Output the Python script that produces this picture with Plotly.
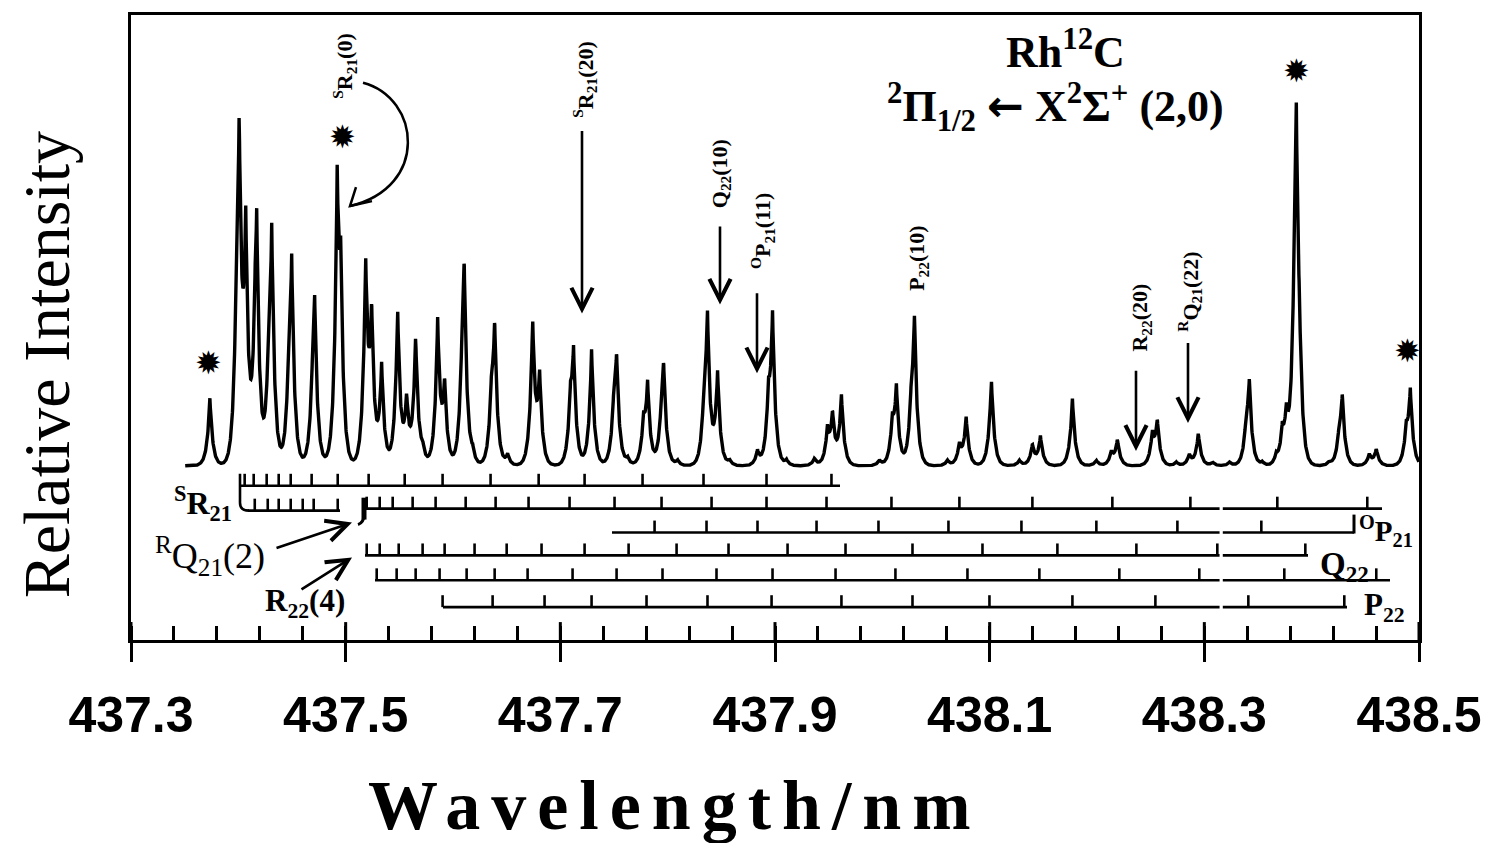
import numpy as np
import plotly.graph_objects as go

# ---------------------------------------------------------------------------
# Rh12C  [2]Pi(1/2) <- X [2]Sigma+ (2,0) band : resolved line list
# centre wavelength (nm) and peak intensity (relative units, baseline = 0)
# ---------------------------------------------------------------------------
line_nm = [
    437.3735, 437.3985, 437.4008, 437.4069, 437.4157, 437.4171, 437.4283, 437.4311,
    437.4469, 437.4497, 437.4692, 437.4711, 437.4921, 437.4953, 437.5186, 437.5242,
    437.5335, 437.5484, 437.5568, 437.5652, 437.5717, 437.5857, 437.5922, 437.6081,
    437.6104, 437.6183, 437.6360, 437.6388, 437.6509, 437.6742, 437.6807, 437.7096,
    437.7123, 437.7291, 437.7496, 437.7524, 437.7626, 437.7776, 437.7813, 437.7943,
    437.7962, 437.8092, 437.8343, 437.8371, 437.8465, 437.8576, 437.8837, 437.8940,
    437.8977, 437.9107, 437.9368, 437.9489, 437.9536, 437.9619, 437.9973, 438.0094,
    438.0131, 438.0271, 438.0299, 438.0607, 438.0718, 438.0781, 438.1016, 438.1277,
    438.1398, 438.1473, 438.1771, 438.1994, 438.2134, 438.2190, 438.2516, 438.2562,
    438.2739, 438.2860, 438.2944, 438.3077, 438.3235, 438.3391, 438.3419, 438.3540,
    438.3671, 438.3727, 438.3764, 438.3838, 438.3857, 438.3885, 438.4164, 438.4257,
    438.4285, 438.4537, 438.4602, 438.4882, 438.4919,
]
line_int = [
    18.6, 28.0, 80.0, 60.0, 18.0, 58.0, 18.0, 60.0,
    15.0, 53.0, 12.0, 41.0, 70.0, 42.0, 54.0, 38.0,
    27.0, 43.0, 17.0, 35.0, 4.0, 39.0, 21.0, 12.0,
    52.0, 3.0, 15.0, 35.0, 3.0, 39.0, 23.0, 14.0,
    28.0, 32.0, 10.0, 28.0, 2.0, 10.0, 21.0, 8.0,
    25.0, 1.5, 14.0, 37.0, 25.0, 1.5, 4.0, 15.0,
    39.0, 1.5, 2.0, 9.0, 13.0, 19.0, 1.5, 10.0,
    20.0, 12.0, 37.0, 1.5, 5.5, 13.0, 24.0, 1.5,
    5.5, 8.0, 18.5, 1.5, 3.5, 7.0, 8.0, 11.5,
    1.0, 3.0, 9.0, 1.0, 1.0, 8.0, 21.0, 1.0,
    2.5, 8.0, 11.5, 20.0, 84.0, 16.0, 1.0, 6.0,
    17.5, 3.0, 4.5, 8.0, 19.5,
]
line_halfwidth_nm = 0.0027

# ---------------------------------------------------------------------------
# Assigned rotational lines of each branch (nm)
# ---------------------------------------------------------------------------
sr21_nm = [437.4059, 437.4143, 437.4264, 437.4376, 437.4488, 437.4683, 437.4926,
           437.5214, 437.5550, 437.5903, 437.6350, 437.6798, 437.7226, 437.7766,
           437.8334, 437.8921, 437.9526]
sr21_head_nm = [437.4153, 437.4274, 437.4376, 437.4488, 437.4600, 437.4702, 437.4926]
rq21_nm = [437.5196, 437.5317, 437.5438, 437.5624, 437.5838, 437.6118, 437.6397,
           437.6704, 437.7086, 437.7505, 437.7943, 437.8409, 437.8921, 437.9480,
           438.0085, 438.0718, 438.1398, 438.2143, 438.2870, 438.3680, 438.4518]
op21_nm = [437.7878, 437.8362, 437.8837, 437.9387, 437.9964, 438.0616, 438.1296,
           438.1994, 438.2749, 438.3531]
r22_nm = [437.5196, 437.5317, 437.5494, 437.5717, 437.5922, 437.6201, 437.6500,
          437.6825, 437.7226, 437.7636, 437.8083, 437.8567, 437.9117, 437.9657,
          438.0281, 438.0933, 438.1631, 438.2367, 438.3121, 438.3941]
q22_nm = [437.5289, 437.5475, 437.5652, 437.5875, 437.6127, 437.6388, 437.6695,
          437.7114, 437.7524, 437.7952, 437.8455, 437.8977, 437.9564, 438.0122,
          438.0793, 438.1463, 438.2208, 438.2953, 438.3745, 438.4602]
p22_nm = [437.5903, 437.6369, 437.6853, 437.7291, 437.7803, 437.8371, 437.8968,
          437.9619, 438.0281, 438.0998, 438.1771, 438.2544, 438.3410, 438.4304]

x_tick_vals = [437.3, 437.5, 437.7, 437.9, 438.1, 438.3, 438.5]
x_tick_text = ["437.3", "437.5", "437.7", "437.9", "438.1", "438.3", "438.5"]

# ---------------------------------------------------------------------------
# Page geometry and helpers that place decorations in pixel terms
# ---------------------------------------------------------------------------
W, H = 1497, 843
ML, MR, MT, MB = 131, 78, 12, 203
X0, X1 = 437.3, 438.5
Y0, Y1 = -47.95, 124.1
PW, PH = W - ML - MR, H - MT - MB
SERIF = "Liberation Serif"
SANS = "Liberation Sans"


def px_x(px):
    return X0 + (px - ML) * (X1 - X0) / PW


def px_y(py):
    return Y1 - (py - MT) * (Y1 - Y0) / PH


def dy(pix):
    return pix * (Y1 - Y0) / PH


fig = go.Figure()

# spectrum trace: every line broadened by the instrument profile
wl = np.arange(437.3505, 438.5001, 0.0002)
spec = np.zeros_like(wl)
for c, h in zip(line_nm, line_int):
    spec += h * np.exp(-np.abs(wl - c) / line_halfwidth_nm)
fig.add_trace(go.Scatter(x=wl, y=spec, mode="lines",
                         line=dict(color="black", width=3.4),
                         hoverinfo="skip", showlegend=False))

# ---------------------------------------------------------------------------
# Assignment ladders below the spectrum
# ---------------------------------------------------------------------------
GAP = (438.3142, 438.3172)
TICK = 12
ladders = [
    # ticks, baseline row (px), line start (px), line end (px)
    (sr21_nm, 485, 240, 840),
    (sr21_head_nm, 510, 248, 340),
    (rq21_nm, 508, 364, 1382),
    (op21_nm, 532, 612, 1354),
    (r22_nm, 555, 365, 1308),
    (q22_nm, 580, 375, 1390),
    (p22_nm, 607, 443, 1347),
]
for ticks, row, s_px, e_px in ladders:
    yb, yt = px_y(row), px_y(row) + dy(TICK)
    xs0, xs1 = px_x(s_px), px_x(e_px)
    xs, ys = [], []
    if xs0 < GAP[0] < xs1:
        xs += [xs0, GAP[0], None, GAP[1], xs1, None]
        ys += [yb, yb, None, yb, yb, None]
    else:
        xs += [xs0, xs1, None]
        ys += [yb, yb, None]
    for t in ticks:
        xs += [t, t, None]
        ys += [yb, yt, None]
    fig.add_trace(go.Scatter(x=xs, y=ys, mode="lines",
                             line=dict(color="black", width=2.6),
                             hoverinfo="skip", showlegend=False))

shapes = []


def seg_path(points, width=2.5):
    d = "M " + " L ".join(f"{px_x(a)},{px_y(b)}" for a, b in points)
    shapes.append(dict(type="path", path=d, xref="x", yref="y",
                       line=dict(color="black", width=width)))


# bracket joining the two rows of the S-R21 branch
shapes.append(dict(type="path", xref="x", yref="y",
                   path=(f"M {px_x(240)},{px_y(473)} L {px_x(240)},{px_y(502)} "
                         f"Q {px_x(240)},{px_y(510)} {px_x(249)},{px_y(510)}"),
                   line=dict(color="black", width=2.6)))
# start marker of the R-Q21 branch
seg_path([(364, 497), (364, 519)], width=5)
shapes.append(dict(type="path", xref="x", yref="y",
                   path=(f"M {px_x(364)},{px_y(514)} Q {px_x(364)},{px_y(522)} "
                         f"{px_x(358)},{px_y(524)}"),
                   line=dict(color="black", width=3)))
# end bar of the O-P21 branch
seg_path([(1354, 514), (1354, 533)], width=3)

# upper halves of the major axis ticks
for v in x_tick_vals:
    shapes.append(dict(type="line", xref="x", yref="paper", x0=v, x1=v,
                       y0=0, y1=18 / PH, line=dict(color="black", width=3)))

# curved pointer to the S-R21(0) line
shapes.append(dict(type="path", xref="x", yref="y",
                   path=(f"M {px_x(363)},{px_y(80)} C {px_x(420)},{px_y(95)} "
                         f"{px_x(430)},{px_y(185)} {px_x(350)},{px_y(204)}"),
                   line=dict(color="black", width=2.5)))
seg_path([(356, 185), (350, 204), (372, 199)], width=2.5)

annotations = []


def text(px, py, s, size, bold=True, angle=0, family=SERIF, xanchor="center"):
    if bold:
        s = f"<b>{s}</b>"
    annotations.append(dict(x=(px - ML) / PW, y=1 - (py - MT) / PH,
                            xref="paper", yref="paper", text=s,
                            showarrow=False, textangle=angle, xanchor=xanchor,
                            yanchor="middle",
                            font=dict(family=family, size=size, color="black")))


def arrow(px0, py0, px1, py1):
    annotations.append(dict(x=px_x(px1), y=px_y(py1), ax=px_x(px0), ay=px_y(py0),
                            xref="x", yref="y", axref="x", ayref="y", text="",
                            showarrow=True, arrowhead=5, arrowsize=1.6,
                            arrowwidth=2.6, arrowcolor="black", standoff=0))


# band title
text(1065, 47, "Rh<sup>12</sup>C", 44)
text(1055, 104,
     "<sup>2</sup>Π<sub>1/2</sub> "
     "<span style=\"font-family:'DejaVu Sans'\">←</span>"
     " X<sup>2</sup>Σ<sup>+</sup> (2,0)", 44)

# individual line labels (vertical)
text(345, 63, "<sup>S</sup>R<sub>21</sub>(0)", 22, angle=-90)
text(585, 77, "<sup>S</sup>R<sub>21</sub>(20)", 22, angle=-90)
text(721, 172, "Q<sub>22</sub>(10)", 22, angle=-90)
text(763, 229, "<sup>O</sup>P<sub>21</sub>(11)", 22, angle=-90)
text(918, 256, "P<sub>22</sub>(10)", 22, angle=-90)
text(1141, 316, "R<sub>22</sub>(20)", 22, angle=-90)
text(1190, 290, "<sup>R</sup>Q<sub>21</sub>(22)", 22, angle=-90)

arrow(582, 127, 582, 312)
arrow(720, 223, 720, 303)
arrow(757, 290, 757, 372)
arrow(1136, 368, 1136, 450)
arrow(1188, 340, 1188, 422)

# impurity / atomic lines
for sx, sy in [(208, 362), (342, 135), (1296, 68), (1407, 350)]:
    text(sx, sy, "✹", 32, bold=False, family="DejaVu Sans")

# branch labels
text(203, 503, "<sup>S</sup>R<sub>21</sub>", 32)
text(210, 556, "<sup>R</sup>Q<sub>21</sub>(2)", 36, bold=False)
text(305, 603, "R<sub>22</sub>(4)", 31)
arrow(275, 548, 352, 522)
arrow(300, 590, 352, 557)
text(1357, 530, "<sup>O</sup>P<sub>21</sub>", 29, xanchor="left")
text(1318, 566, "Q<sub>22</sub>", 33, xanchor="left")
text(1362, 607, "P<sub>22</sub>", 31, xanchor="left")

# axis titles
text(46, 364, "Relative Intensity", 66, bold=False, angle=-90)
text(675, 806, '<span style="letter-spacing:11px">Wavelength/nm</span>', 70)

fig.update_layout(
    width=W, height=H,
    margin=dict(l=ML, r=MR, t=MT, b=MB, pad=0),
    paper_bgcolor="white", plot_bgcolor="white",
    showlegend=False,
    shapes=shapes,
    annotations=annotations,
    xaxis=dict(range=[X0, X1], tickmode="array", tickvals=x_tick_vals,
               ticktext=x_tick_text, ticks="outside", ticklen=19, tickwidth=3,
               tickcolor="black", showline=True, linewidth=3, linecolor="black",
               mirror=True, showgrid=False, zeroline=False, ticklabelstandoff=10,
               tickfont=dict(family=SANS, size=50, color="black", weight="bold"),
               minor=dict(dtick=0.04, tick0=437.3, ticks="inside", ticklen=14,
                          tickwidth=3, tickcolor="black", showgrid=False)),
    yaxis=dict(range=[Y0, Y1], showline=True, linewidth=3, linecolor="black",
               mirror=True, showgrid=False, zeroline=False, ticks="",
               showticklabels=False),
)

fig.write_html("out.html")
